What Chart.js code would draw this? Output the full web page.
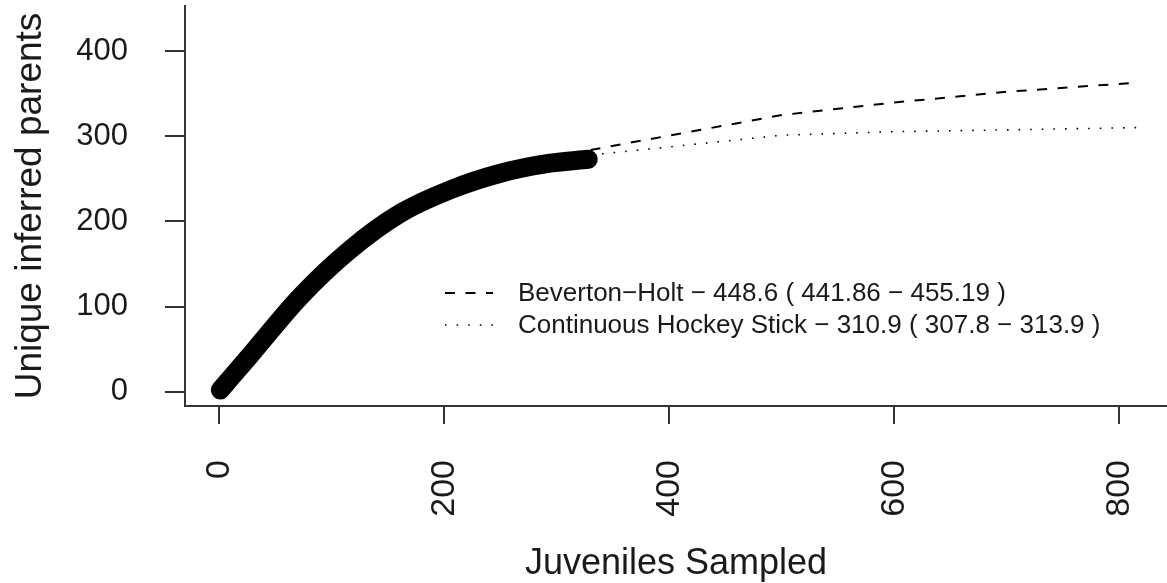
<!DOCTYPE html>
<html>
<head>
<meta charset="utf-8">
<script src="https://cdn.jsdelivr.net/npm/chart.js@4/dist/chart.umd.min.js"></script>
<style>
  html, body { margin: 0; padding: 0; background: #fff; overflow: hidden; }
  canvas { display: block; }
</style>
</head>
<body>
<canvas id="c" width="1167" height="583"></canvas>
<script>
// Cumulative unique parents as juveniles are added
const sampledX = [1, 27, 72, 116, 161, 205, 250, 294, 328];
const sampledY = [2, 42, 111.6, 166.5, 209.6, 237, 256.6, 268.4, 273];

// Projected curves beyond the sampled juveniles
const bevertonHoltX = [330, 500, 600, 700, 815];
const bevertonHoltY = [284, 325, 339.7, 352.3, 363];
const hockeyStickX = [330, 500, 600, 700, 815];
const hockeyStickY = [278, 301.3, 305.5, 307.6, 310.2];

const xTicks = [0, 200, 400, 600, 800];
const yTicks = [0, 100, 200, 300, 400];

const legendLabels = [
  'Beverton\u2212Holt \u2212 448.6 ( 441.86 \u2212 455.19 )',
  'Continuous Hockey Stick \u2212 310.9 ( 307.8 \u2212 313.9 )'
];

const FONT = "'Liberation Sans', Arial, Helvetica, sans-serif";
const INK = '#1a1a1a';
const AXIS = '#333333';

const toPoints = (xs, ys) => xs.map((x, i) => ({ x, y: ys[i] }));

const DASH = [10, 10.5];
const DOT = [1.6, 10];

// Legend drawn inside the plot area, R style
const insetLegend = {
  id: 'insetLegend',
  afterDatasetsDraw(chart) {
    const ctx = chart.ctx;
    const rows = [
      { label: legendLabels[0], dash: DASH, width: 2, y: 293 },
      { label: legendLabels[1], dash: DOT, width: 1.6, y: 325 }
    ];
    ctx.save();
    rows.forEach(r => {
      ctx.beginPath();
      ctx.setLineDash(r.dash);
      ctx.lineWidth = r.width;
      ctx.strokeStyle = '#000';
      ctx.lineCap = 'butt';
      ctx.moveTo(445, r.y);
      ctx.lineTo(493, r.y);
      ctx.stroke();
      ctx.setLineDash([]);
      ctx.fillStyle = INK;
      ctx.font = '26px ' + FONT;
      ctx.textAlign = 'left';
      ctx.textBaseline = 'middle';
      ctx.fillText(r.label, 518, r.y + 1);
    });
    ctx.restore();
  }
};

new Chart(document.getElementById('c'), {
  type: 'scatter',
  data: {
    datasets: [
      {
        label: 'Sampled',
        data: toPoints(sampledX, sampledY),
        showLine: true,
        borderColor: '#000',
        backgroundColor: '#000',
        borderWidth: 19,
        borderCapStyle: 'round',
        borderJoinStyle: 'round',
        cubicInterpolationMode: 'monotone',
        pointRadius: 0,
        order: 0
      },
      {
        label: 'Beverton-Holt',
        data: toPoints(bevertonHoltX, bevertonHoltY),
        showLine: true,
        borderColor: '#000',
        borderWidth: 2,
        borderDash: DASH,
        tension: 0,
        pointRadius: 0,
        order: 1
      },
      {
        label: 'Continuous Hockey Stick',
        data: toPoints(hockeyStickX, hockeyStickY),
        showLine: true,
        borderColor: '#000',
        borderWidth: 1.6,
        borderDash: DOT,
        tension: 0,
        pointRadius: 0,
        order: 2
      }
    ]
  },
  options: {
    responsive: false,
    animation: false,
    devicePixelRatio: 1,
    layout: { padding: { top: 6, right: 0, bottom: 0, left: 0 } },
    plugins: { legend: { display: false }, tooltip: { enabled: false } },
    scales: {
      x: {
        type: 'linear',
        min: -30.4,
        max: 842.4,
        afterBuildTicks: s => { s.ticks = xTicks.map(v => ({ value: v })); },
        afterFit: s => { s.height = 177; s.paddingLeft = 0; s.paddingRight = 0; },
        grid: {
          display: true, drawOnChartArea: false, drawTicks: true,
          tickLength: 18, color: AXIS, lineWidth: 2
        },
        border: { display: true, color: AXIS, width: 2 },
        ticks: {
          autoSkip: false, minRotation: 90, maxRotation: 90,
          padding: 36, color: INK,
          font: { family: FONT, size: 34 }
        },
        title: {
          display: true, text: 'Juveniles Sampled', color: INK,
          font: { family: FONT, size: 36, lineHeight: 1 },
          padding: { top: 0, bottom: 1 }
        }
      },
      y: {
        type: 'linear',
        min: -16.8,
        max: 453.1,
        afterBuildTicks: s => { s.ticks = yTicks.map(v => ({ value: v })); },
        afterFit: s => { s.width = 185; s.paddingTop = 0; s.paddingBottom = 0; },
        grid: {
          display: true, drawOnChartArea: false, drawTicks: true,
          tickLength: 20, color: AXIS, lineWidth: 2
        },
        border: { display: true, color: AXIS, width: 2 },
        ticks: {
          padding: 37, color: INK,
          font: { family: FONT, size: 31 }
        },
        title: {
          display: true, text: 'Unique inferred parents', color: INK,
          font: { family: FONT, size: 37, lineHeight: 1 },
          padding: { top: 12, bottom: 0 }
        }
      }
    }
  },
  plugins: [insetLegend]
});
</script>
</body>
</html>
